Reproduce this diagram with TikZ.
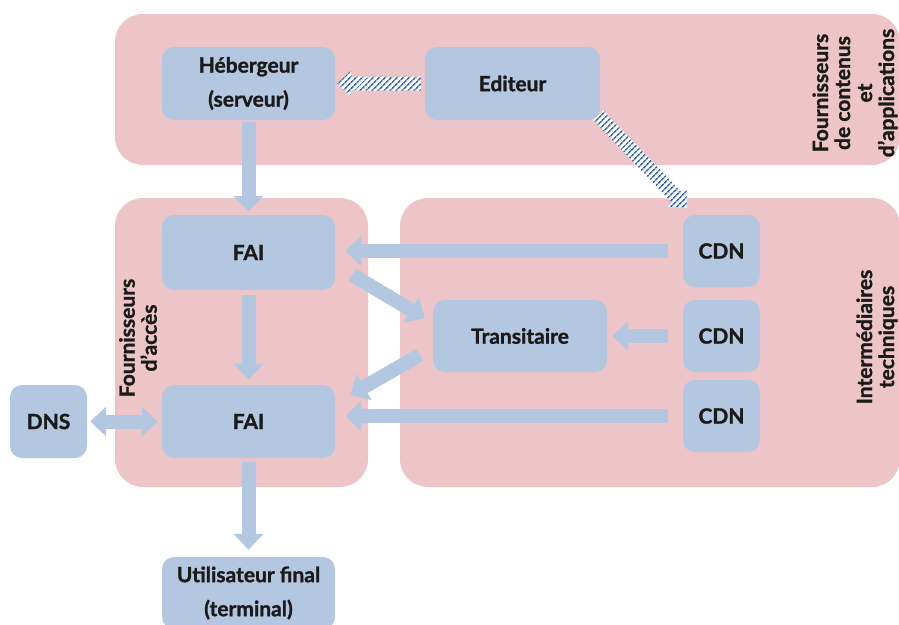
\documentclass[tikz,border=0pt]{standalone}
\usepackage{fontspec}
\setmainfont{Lato}[BoldFeatures={FakeBold=1.3}]
\usetikzlibrary{arrows.meta,calc,patterns.meta}
\definecolor{panelpink}{HTML}{EDC5C8}
\definecolor{boxblue}{HTML}{B4C7E0}
\definecolor{hatchblue}{HTML}{3E6EA8}
\definecolor{ink}{HTML}{1A1A1A}
\tikzset{
  panel/.style={fill=panelpink, rounded corners=28pt},
  box/.style={fill=boxblue, rounded corners=12pt, font=\bfseries\fontsize{21}{34}\selectfont,
    text=ink, align=center, inner sep=0pt},
  vlabel/.style={rotate=90, font=\bfseries\fontsize{21}{22}\selectfont, text=ink, align=center},
  barrow/.style={draw=boxblue, line width=14pt, -{Triangle[width=29pt,length=16pt]}},
  dbarrow/.style={draw=boxblue, line width=14pt, {Triangle[width=29pt,length=16pt]}-{Triangle[width=29pt,length=16pt]}},
  hatchfill/.style={fill=white, postaction={pattern={Lines[angle=45,distance=4pt,line width=1.7pt]}, pattern color=hatchblue}}
}
% hatched block arrow from #1 (tail) to #2 (tip)
\newcommand\hatcharrow[2]{%
  \coordinate (hcbase) at ($(#2)!14pt!(#1)$);
  \path[hatchfill] ($(#1)!7pt!90:(#2)$) -- ($(hcbase)!7pt!90:(#2)$) -- ($(hcbase)!13pt!90:(#2)$)
    -- (#2) -- ($(hcbase)!13pt!-90:(#2)$) -- ($(hcbase)!7pt!-90:(#2)$) -- ($(#1)!7pt!-90:(#2)$) -- cycle;}
\begin{document}
\begin{tikzpicture}[x=1pt,y=-1pt]
\useasboundingbox (0,0) rectangle (899,624);
% panels
\fill[panel] (115,14) rectangle (900,165);
\fill[panel] (115,198) rectangle (368,487);
\fill[panel] (400,198) rectangle (900,487);
% panel labels
\node[vlabel] (lcont) at (855,93) {Fournisseurs\\de contenus\\et\\d’applications};
\node[vlabel] (linter) at (877,337) {Intermédiaires\\techniques};
\node[vlabel] (lacces) at (138,338) {Fournisseurs\\d’accès};
% boxes
\node[box, minimum width=173pt, minimum height=73pt] (heb) at (248.5,83.5) {Hébergeur\\(serveur)};
\node[box, minimum width=175pt, minimum height=73pt] (edit) at (512.5,83.5) {Editeur};
\node[box, minimum width=173pt, minimum height=75pt] (fai1) at (248.5,252.5) {FAI};
\node[box, minimum width=173pt, minimum height=73pt] (fai2) at (248.5,421.5) {FAI};
\node[box, minimum width=174pt, minimum height=72pt] (trans) at (520,336) {Transitaire};
\node[box, minimum width=77pt, minimum height=72pt] (cdn1) at (721.5,251) {CDN};
\node[box, minimum width=77pt, minimum height=72pt] (cdn2) at (721.5,336) {CDN};
\node[box, minimum width=77pt, minimum height=72pt] (cdn3) at (721.5,416) {CDN};
\node[box, minimum width=77pt, minimum height=73pt] (dns) at (48.5,421.5) {DNS};
\node[box, minimum width=173pt, minimum height=72pt] (user) at (248.5,593) {Utilisateur final\\(terminal)};
% block arrows
\draw[barrow, shorten <=2pt, shorten >=3pt] (heb) -- (fai1);
\draw[barrow, shorten <=5pt, shorten >=5pt] (fai1) -- (fai2);
\draw[barrow, shorten <=4pt, shorten >=7pt] (fai2) -- (user);
\draw[barrow, shorten <=15pt, shorten >=10pt] (cdn1.west) -- (cdn1.west -| fai1.east);
\draw[barrow, shorten <=15pt, shorten >=5pt] (cdn2.west) -- (cdn2.west -| trans.east);
\draw[barrow, shorten <=15pt, shorten >=10pt] (cdn3.west) -- (cdn3.west -| fai2.east);
\draw[dbarrow, shorten <=3pt, shorten >=4pt] (dns) -- (fai2);
\coordinate (d1a) at ($(fai1.east)+(17,22.5)$);
\coordinate (d1b) at ($(trans.west)+(-8,-18)$);
\draw[barrow] (d1a) -- (d1b);
\coordinate (d2a) at ($(trans.west)+(-13,19)$);
\coordinate (d2b) at ($(fai2.east)+(15,-26.5)$);
\draw[barrow] (d2a) -- (d2b);
% hatched arrows
\coordinate (h1a) at ($(edit.west)+(-4,0)$);
\coordinate (h1b) at ($(heb.east)+(2,0)$);
\hatcharrow{h1a}{h1b}
\coordinate (h2a) at ($(edit.south east)+(-2,-5)$);
\coordinate (h2b) at ($(cdn1.north west)+(4,-7)$);
\hatcharrow{h2a}{h2b}
\end{tikzpicture}
\end{document}
